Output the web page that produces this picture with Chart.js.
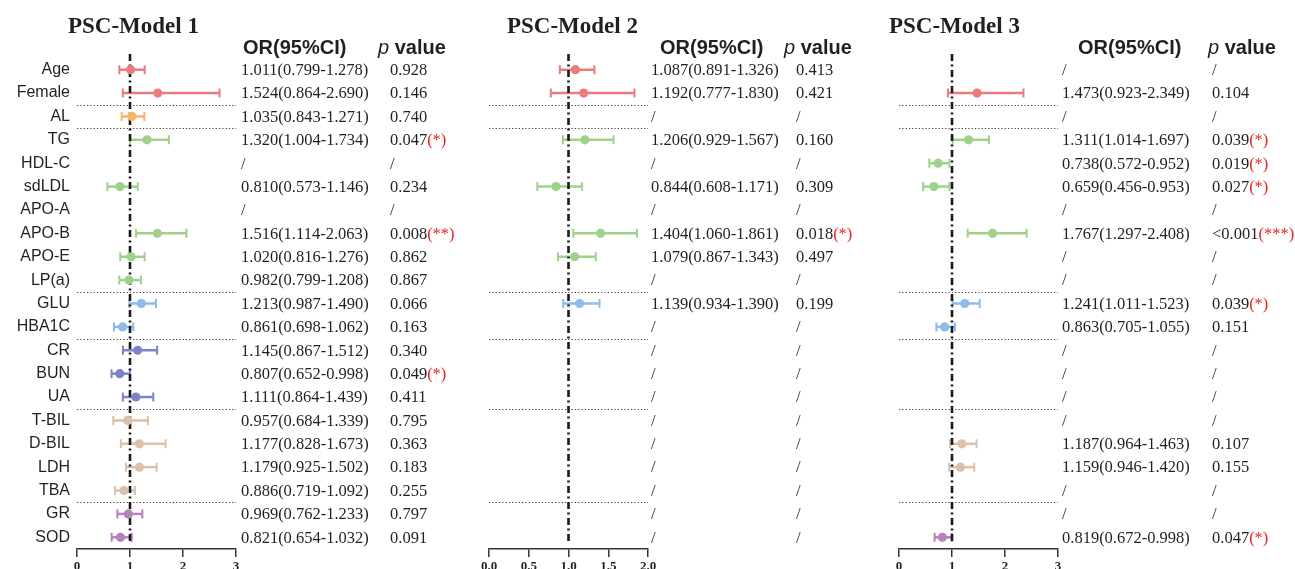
<!DOCTYPE html>
<html>
<head>
<meta charset="utf-8">
<script src="https://cdn.jsdelivr.net/npm/chart.js@4"></script>
<style>
  html, body { margin:0; padding:0; background:#fff; width:1295px; height:569px; overflow:hidden; }
  canvas { position:absolute; left:0; top:0; }
</style>
</head>
<body>
<canvas id="c1" width="1295" height="580"></canvas>
<canvas id="c2" width="1295" height="580"></canvas>
<canvas id="c3" width="1295" height="580"></canvas>
<script>
// ---------- data ----------
const rows = ['Age','Female','AL','TG','HDL-C','sdLDL','APO-A','APO-B','APO-E','LP(a)','GLU','HBA1C','CR','BUN','UA','T-BIL','D-BIL','LDH','TBA','GR','SOD'];
const groupColors = ['#ec7b7d','#ec7b7d','#f7b56c','#9fd18b','#9fd18b','#9fd18b','#9fd18b','#9fd18b','#9fd18b','#9fd18b','#8dbbea','#8dbbea','#7d83c9','#7d83c9','#7d83c9','#dcc1aa','#dcc1aa','#dcc1aa','#dcc1aa','#b782bb','#b782bb'];
const separatorsAfter = [1, 2, 9, 11, 14, 18];

const or1 = [1.011,1.524,1.035,1.320,null,0.810,null,1.516,1.020,0.982,1.213,0.861,1.145,0.807,1.111,0.957,1.177,1.179,0.886,0.969,0.821];
const lo1 = [0.799,0.864,0.843,1.004,null,0.573,null,1.114,0.816,0.799,0.987,0.698,0.867,0.652,0.864,0.684,0.828,0.925,0.719,0.762,0.654];
const hi1 = [1.278,2.690,1.271,1.734,null,1.146,null,2.063,1.276,1.208,1.490,1.062,1.512,0.998,1.439,1.339,1.673,1.502,1.092,1.233,1.032];
const p1  = ['0.928','0.146','0.740','0.047',null,'0.234',null,'0.008','0.862','0.867','0.066','0.163','0.340','0.049','0.411','0.795','0.363','0.183','0.255','0.797','0.091'];
const sig1 = ['','','','*','','','','**','','','','','','*','','','','','','',''];

const or2 = [1.087,1.192,null,1.206,null,0.844,null,1.404,1.079,null,1.139,null,null,null,null,null,null,null,null,null,null];
const lo2 = [0.891,0.777,null,0.929,null,0.608,null,1.060,0.867,null,0.934,null,null,null,null,null,null,null,null,null,null];
const hi2 = [1.326,1.830,null,1.567,null,1.171,null,1.861,1.343,null,1.390,null,null,null,null,null,null,null,null,null,null];
const p2  = ['0.413','0.421',null,'0.160',null,'0.309',null,'0.018','0.497',null,'0.199',null,null,null,null,null,null,null,null,null,null];
const sig2 = ['','','','','','','','*','','','','','','','','','','','','',''];

const or3 = [null,1.473,null,1.311,0.738,0.659,null,1.767,null,null,1.241,0.863,null,null,null,null,1.187,1.159,null,null,0.819];
const lo3 = [null,0.923,null,1.014,0.572,0.456,null,1.297,null,null,1.011,0.705,null,null,null,null,0.964,0.946,null,null,0.672];
const hi3 = [null,2.349,null,1.697,0.952,0.953,null,2.408,null,null,1.523,1.055,null,null,null,null,1.463,1.420,null,null,0.998];
const p3  = [null,'0.104',null,'0.039','0.019','0.027',null,'<0.001',null,null,'0.039','0.151',null,null,null,null,'0.107','0.155',null,null,'0.047'];
const sig3 = ['','','','*','*','*','','***','','','*','','','','','','','','','','*'];

const ticks13 = ['0','1','2','3'];
const ticks2 = ['0.0','0.5','1.0','1.5','2.0'];
const titles = ['PSC-Model 1','PSC-Model 2','PSC-Model 3'];
const headOR = 'OR(95%CI)';

// ---------- plugin ----------
const TXT = '#231f20';
const forest = {
  id: 'forest',
  beforeDatasetsDraw(chart, args, o) {
    const {ctx, chartArea: a, scales: {x, y}} = chart;
    ctx.save();
    // dotted separators
    ctx.strokeStyle = '#444'; ctx.lineWidth = 1; ctx.setLineDash([1.3, 2]);
    separatorsAfter.forEach(i => {
      const yy = Math.round((y.getPixelForValue(i) + y.getPixelForValue(i + 1)) / 2) + 0.5;
      ctx.beginPath(); ctx.moveTo(a.left, yy); ctx.lineTo(a.right, yy); ctx.stroke();
    });
    // whiskers
    ctx.setLineDash([]);
    o.lo.forEach((lo, i) => {
      if (lo == null) return;
      const yy = y.getPixelForValue(i);
      const x1 = x.getPixelForValue(lo), x2 = x.getPixelForValue(o.hi[i]);
      ctx.strokeStyle = groupColors[i];
      ctx.lineWidth = 2.5;
      ctx.beginPath(); ctx.moveTo(x1, yy); ctx.lineTo(x2, yy); ctx.stroke();
      ctx.lineWidth = 2;
      ctx.beginPath();
      ctx.moveTo(x1, yy - 4.5); ctx.lineTo(x1, yy + 4.5);
      ctx.moveTo(x2, yy - 4.5); ctx.lineTo(x2, yy + 4.5);
      ctx.stroke();
    });
    // reference line at OR = 1
    const rx = x.getPixelForValue(1);
    ctx.strokeStyle = '#1a1a1a'; ctx.lineWidth = 2.6; ctx.setLineDash([7, 3.5, 2, 3.5]);
    ctx.beginPath(); ctx.moveTo(rx, a.top - 4); ctx.lineTo(rx, a.bottom - 8); ctx.stroke();
    ctx.restore();
  },
  afterDraw(chart, args, o) {
    const {ctx, scales: {y}} = chart;
    ctx.save();
    ctx.fillStyle = TXT;
    ctx.textBaseline = 'alphabetic';
    ctx.textAlign = 'left';
    // title
    ctx.font = 'bold 23px "Liberation Serif", "Times New Roman", serif';
    ctx.fillText(o.title, o.titleX, 33);
    // headers
    ctx.font = 'bold 20px "Liberation Sans", Arial, sans-serif';
    ctx.fillText(headOR, o.orHX, 54);
    ctx.font = 'italic 20px "Liberation Sans", Arial, sans-serif';
    ctx.fillText('p', o.pHX, 54);
    const pw = ctx.measureText('p ').width;
    ctx.font = 'bold 20px "Liberation Sans", Arial, sans-serif';
    ctx.fillText('value', o.pHX + pw, 54);
    // rows
    ctx.font = '16.5px "Liberation Serif", "Times New Roman", serif';
    ctx.textBaseline = 'middle';
    rows.forEach((r, i) => {
      const yy = y.getPixelForValue(i) + 1;
      ctx.fillStyle = TXT;
      if (o.or[i] == null) {
        ctx.fillText('/', o.orX, yy);
        ctx.fillText('/', o.pX, yy);
        return;
      }
      ctx.fillText(`${o.or[i].toFixed(3)}(${o.lo[i].toFixed(3)}-${o.hi[i].toFixed(3)})`, o.orX, yy);
      ctx.fillText(o.p[i], o.pX, yy);
      if (o.sig[i]) {
        const w = ctx.measureText(o.p[i]).width;
        ctx.fillStyle = '#e8231f';
        ctx.fillText('(' + o.sig[i] + ')', o.pX + w, yy);
      }
    });
    ctx.restore();
  }
};

function makeChart(id, cfg) {
  const pts = [], cols = [];
  cfg.or.forEach((v, i) => { if (v != null) { pts.push({x: v, y: rows[i]}); cols.push(groupColors[i]); } });
  return new Chart(document.getElementById(id), {
    type: 'scatter',
    data: { datasets: [{ data: pts, pointBackgroundColor: cols, pointBorderWidth: 0, pointRadius: 4.6, pointHoverRadius: 4.6 }] },
    options: {
      responsive: false, animation: false, devicePixelRatio: 1,
      layout: { padding: { left: cfg.padL, right: cfg.padR, top: 58, bottom: 0 } },
      plugins: { legend: { display: false }, tooltip: { enabled: false }, forest: cfg },
      scales: {
        x: {
          type: 'linear', min: 0, max: cfg.max, afterFit: s => { s.height = 31; },
          ticks: { stepSize: cfg.step, autoSkip: false, maxRotation: 0, padding: 2, color: TXT,
                   font: { family: '"Liberation Serif", "Times New Roman", serif', size: 13, weight: 'bold' },
                   callback: (v, idx) => cfg.tickLabels[idx] },
          grid: { drawOnChartArea: false, drawTicks: true, tickLength: 8, color: '#333', lineWidth: 1.5 },
          border: { display: true, color: '#333', width: 1.5 }
        },
        y: {
          type: 'category', labels: rows, offset: true, display: cfg.showY,
          afterFit: s => { s.width = cfg.showY ? 77 : 0; },
          ticks: { color: TXT, padding: 7, font: { family: '"Liberation Sans", Arial, sans-serif', size: 16 } },
          grid: { display: false, drawTicks: false },
          border: { display: false }
        }
      }
    },
    plugins: [forest]
  });
}

makeChart('c1', { title: titles[0], titleX: 68, orHX: 243, pHX: 378, orX: 241, pX: 390,
  or: or1, lo: lo1, hi: hi1, p: p1, sig: sig1, max: 3, step: 1, tickLabels: ticks13,
  padL: 0, padR: 1295 - 236, showY: true });
makeChart('c2', { title: titles[1], titleX: 507, orHX: 660, pHX: 784, orX: 651, pX: 796,
  or: or2, lo: lo2, hi: hi2, p: p2, sig: sig2, max: 2, step: 0.5, tickLabels: ticks2,
  padL: 489, padR: 1295 - 648, showY: false });
makeChart('c3', { title: titles[2], titleX: 889, orHX: 1078, pHX: 1208, orX: 1062, pX: 1212,
  or: or3, lo: lo3, hi: hi3, p: p3, sig: sig3, max: 3, step: 1, tickLabels: ticks13,
  padL: 899, padR: 1295 - 1058, showY: false });
</script>
</body>
</html>
